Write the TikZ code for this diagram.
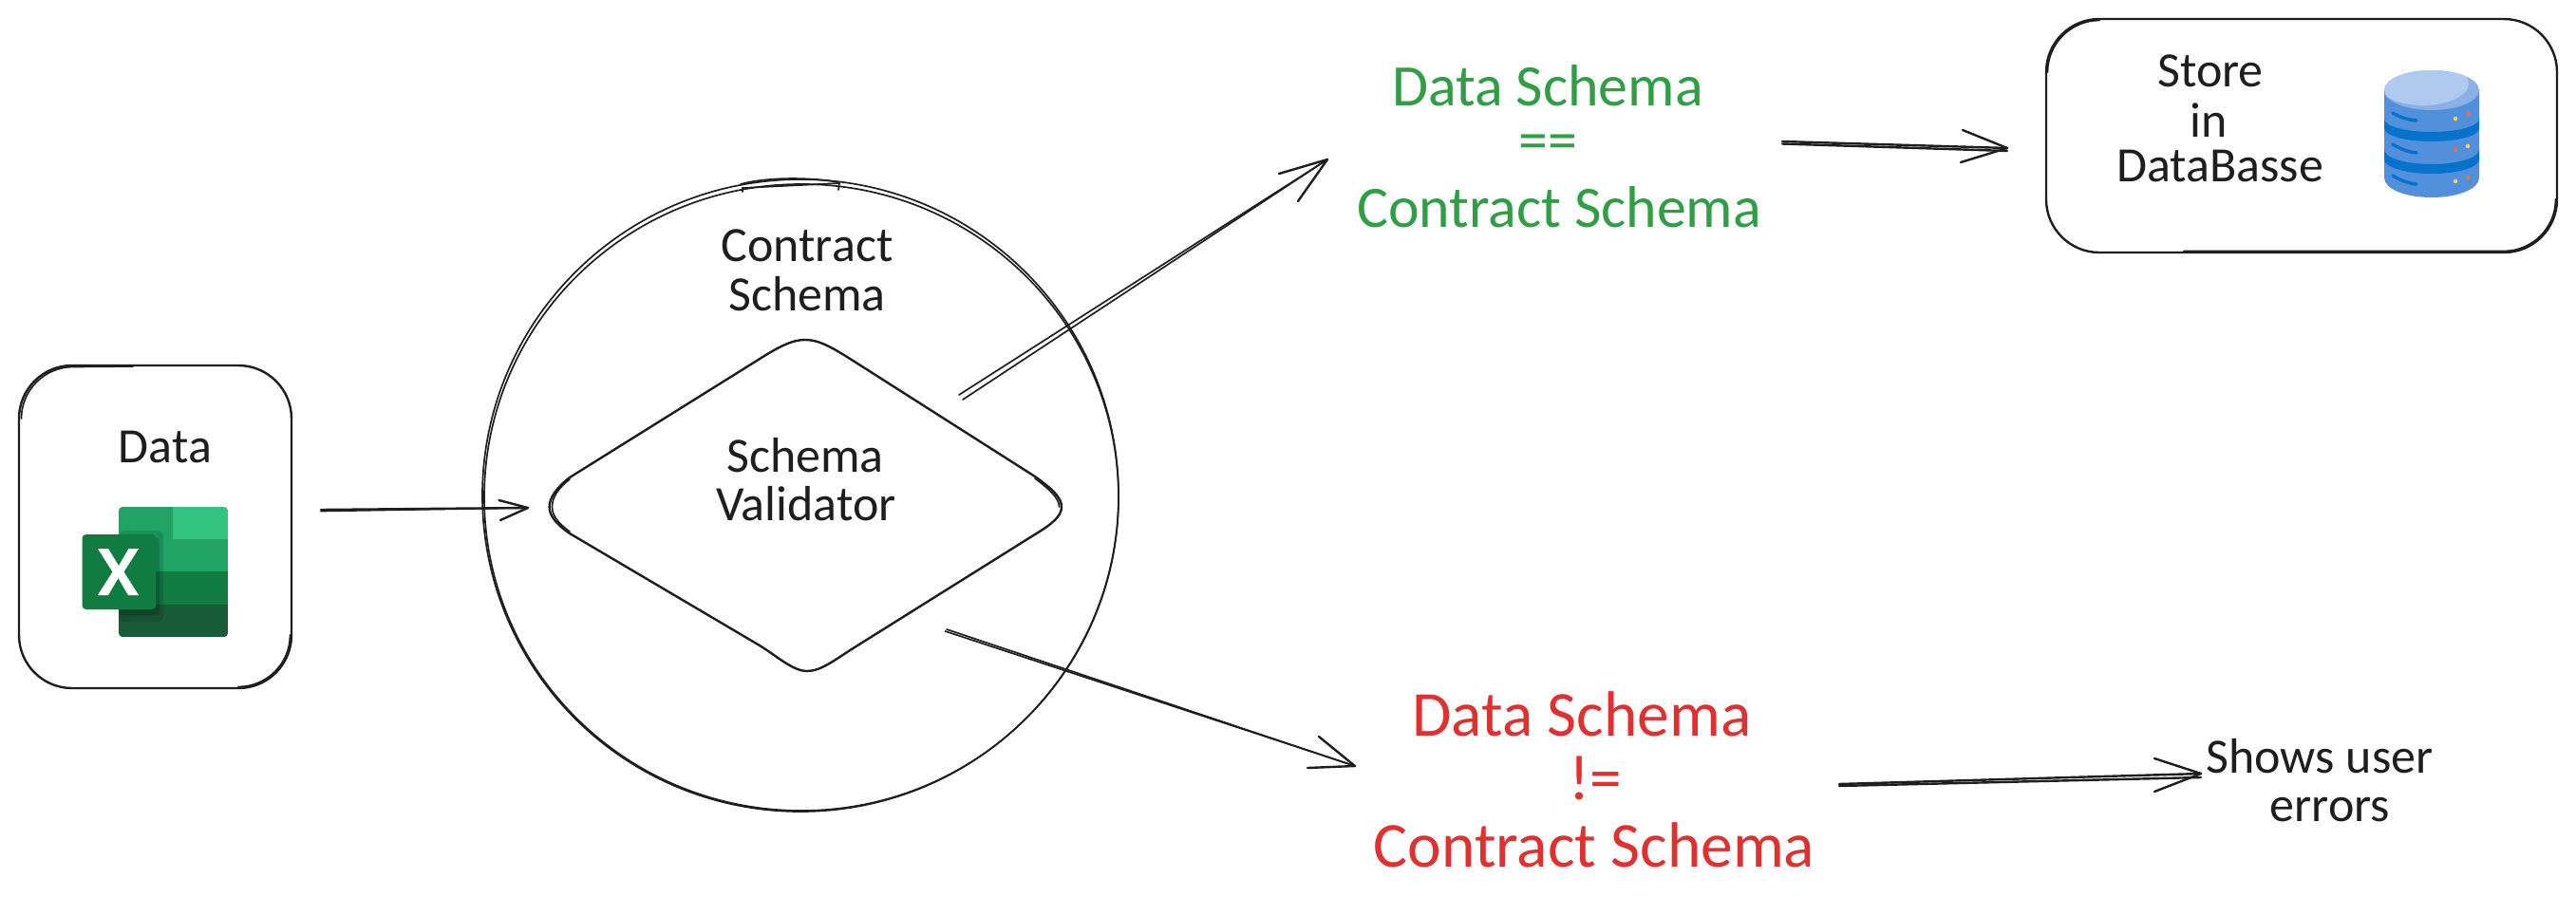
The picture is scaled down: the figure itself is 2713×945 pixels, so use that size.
\documentclass[tikz,border=0pt]{standalone}
\usepackage{fontspec}
\setmainfont{Carlito}
\usetikzlibrary{shapes.geometric}
\definecolor{ink}{HTML}{1E1E1E}
\definecolor{sgreen}{HTML}{2F9E44}
\definecolor{sred}{HTML}{E03131}
\definecolor{xa}{HTML}{33C481}
\definecolor{xb}{HTML}{21A366}
\definecolor{xc}{HTML}{107C41}
\definecolor{xd}{HTML}{185C37}
\definecolor{dba}{HTML}{5290DB}
\definecolor{dbb}{HTML}{8AB0E5}
\definecolor{dbc}{HTML}{B0C9EE}
\definecolor{dbd}{HTML}{0672CB}
\definecolor{dby}{HTML}{FFD54F}
\definecolor{dbo}{HTML}{F0703C}
\tikzset{
  x=0.25mm,y=-0.25mm,
  stroke/.style={draw=ink,line width=0.6mm,line cap=round,line join=round},
  fine/.style={draw=ink,line width=0.42mm,line cap=round,line join=round},
  sbox/.style={stroke,rectangle,rounded corners=14mm,inner sep=0pt},
  lab/.style={inner sep=0pt,text=ink,font=\fontsize{37}{39}\selectfont},
  glab/.style={inner sep=0pt,text=sgreen,font=\fontsize{44}{46}\selectfont},
  rlab/.style={inner sep=0pt,text=sred,font=\fontsize{48}{50}\selectfont},
}
\begin{document}
\begin{tikzpicture}
\useasboundingbox (0,0) rectangle (2713,945);
\fill[white] (0,0) rectangle (2713,945);

% Data box
\node[sbox,minimum width=71.75mm,minimum height=85mm] (databox) at (163.5,555) {};
\draw[fine] (22.5,441) .. controls (22.5,411) and (47,386.5) .. (77,386.5) -- (140,386);
\draw[fine] (305.5,669) .. controls (305.5,699) and (281,723.5) .. (251,723.5);
\node[lab] (datalab) at (174,471) {Data};

% Excel icon
\begin{scope}
  \clip[rounded corners=1mm] (125,534) rectangle (240,671);
  \fill[xb] (125,534) rectangle (182,568);
  \fill[xa] (182,534) rectangle (240,568);
  \fill[xb] (125,568) rectangle (240,602);
  \fill[xc] (125,602) rectangle (240,637);
  \fill[xd] (125,637) rectangle (240,671);
  \fill[black,opacity=0.12,rounded corners=1.5mm] (125,559) rectangle (172,655);
  \fill[black,opacity=0.15,rounded corners=1mm] (125,566) rectangle (168,648);
\end{scope}
\fill[xc,rounded corners=1mm] (86.5,563) rectangle (164,642);
\fill[white] (103,578) -- (114,578) -- (125,596) -- (135.5,578) -- (146,578) -- (130.5,602.5) -- (146,627) -- (135,627) -- (124.5,609) -- (114,627) -- (103,627) -- (118.5,602.5) -- cycle;

% Circle
\node[ellipse,inner sep=0pt,fine,minimum width=167.5mm,minimum height=166.5mm] (circ) at (843,522) {};
\draw[fine] (844,524) ellipse [x radius=334,y radius=330];
\draw[fine] (780,194) .. controls (805,187) and (850,186) .. (883,192);
\draw[fine] (782,198) -- (884,193);
\draw[fine] (782,198) -- (782,202);
\draw[fine] (884,193) -- (883,200);
\node[lab] (contract) at (850,259) {Contract};
\node[lab] (cschema) at (850,310) {Schema};

% Diamond
\coordinate (dT) at (848,358);
\coordinate (dR) at (1118,534);
\coordinate (dB) at (850,707);
\coordinate (dL) at (578.6,534);
\draw[stroke] (797,380) .. controls (822,364) and (835,358) .. (dT) .. controls (862,358) and (875,365) .. (900,381)
  -- (1090,502) .. controls (1108,515) and (1118,524) .. (dR) .. controls (1118,544) and (1108,552) .. (1090,563)
  -- (900,682) .. controls (880,694.5) and (865,707) .. (dB) .. controls (835,707) and (818,691) .. (800,680)
  -- (600,562) .. controls (587,553) and (578.6,544) .. (dL) .. controls (578.6,524) and (587,513) .. (600,503) -- cycle;
\draw[fine] (600,505) .. controls (588,514) and (581.5,524) .. (581.5,534) .. controls (581.5,544) and (589,552) .. (600,560);
\draw[fine] (1090,504) .. controls (1106,516) and (1115.5,525) .. (1115.5,534);
\node[lab] (vschema) at (848,480) {Schema};
\node[lab] (vvalid) at (849,530.5) {Validator};

% Connector: data to validator
\coordinate (a1s) at (338,537);
\coordinate (a1t) at (338,538.5);
\coordinate (a1e) at (556,535);
\coordinate (a1u) at (525.5,527);
\coordinate (a1v) at (527,548);
\draw[stroke] (a1s) -- (a1e);
\draw[fine] (a1t) -- (a1e);
\draw[stroke] (a1u) -- (a1e) -- (a1v);

% Connector: validator to green
\coordinate (a2s) at (1010,416);
\coordinate (a2t) at (1014,421);
\coordinate (a2e) at (1398,168);
\coordinate (a2u) at (1347,183);
\coordinate (a2v) at (1367,212);
\draw[fine] (a2s) -- (a2e);
\draw[fine] (a2t) -- (a2e);
\draw[stroke] (a2u) -- (a2e) -- (a2v);

% Connector: validator to red
\coordinate (a3s) at (995.5,665);
\coordinate (a3t) at (997,663);
\coordinate (a3e) at (1427,807);
\coordinate (a3u) at (1389,776);
\coordinate (a3v) at (1377,809);
\draw[fine] (a3s) -- (a3e);
\draw[fine] (a3t) -- (a3e);
\draw[stroke] (a3u) -- (a3e) -- (a3v);

% Connector: green to store
\coordinate (a4s) at (1877,149);
\coordinate (a4t) at (1877,151.5);
\coordinate (a4e) at (2114,156);
\coordinate (a4f) at (2114,159);
\coordinate (a4u) at (2067,137);
\coordinate (a4v) at (2065,171);
\draw[stroke] (a4s) -- (a4e);
\draw[stroke] (a4t) -- (a4f);
\draw[stroke] (a4u) -- (a4e) -- (a4v);

% Connector: red to errors
\coordinate (a5s) at (1937,826);
\coordinate (a5t) at (1937,828);
\coordinate (a5e) at (2318,815);
\coordinate (a5f) at (2318,819);
\coordinate (a5u) at (2269,799);
\coordinate (a5v) at (2269,834);
\draw[stroke] (a5s) -- (a5e);
\draw[stroke] (a5t) -- (a5f);
\draw[stroke] (a5u) -- (a5e) -- (a5v);

% Green text
\node[glab] (g1) at (1630,90) {Data Schema};
\node[glab] (g2) at (1630,155) {==};
\node[glab] (g3) at (1642,218) {Contract Schema};

% Red text
\node[rlab] (r1) at (1666,752) {Data Schema};
\node[rlab] (r2) at (1680,820) {!=};
\node[rlab] (r3) at (1679,890) {Contract Schema};

% Errors text
\node[lab] (e1) at (2443,797) {Shows user};
\node[lab] (e2) at (2454,853) {errors};

% Store box
\node[sbox,minimum width=134.5mm,minimum height=61.5mm] (storebox) at (2424,143) {};
\draw[fine] (2156.5,76) .. controls (2156.5,46) and (2181,21.5) .. (2211,21.5);
\draw[fine] (2691.5,210) .. controls (2691.5,240) and (2667,264.5) .. (2637,264.5) -- (2300,264.5);
\node[lab] (s1) at (2328,75) {Store};
\node[lab] (s2) at (2326,127) {in};
\node[lab] (s3) at (2338,175) {DataBasse};

% Database icon
\fill[dba] (2511,95) -- (2511,187) .. controls (2511,199) and (2533,208) .. (2561,208) .. controls (2589,208) and (2611,199) .. (2611,187) -- (2611,95) -- cycle;
\fill[dbb] (2561,95) ellipse [x radius=50,y radius=21];
\begin{scope}
  \clip (2561,95) ellipse [x radius=50,y radius=21];
  \fill[dbc] (2552,88) ellipse [x radius=48,y radius=23];
\end{scope}
\fill[dbd] (2511,125) .. controls (2511,133) and (2533,139) .. (2561,139) .. controls (2589,139) and (2611,133) .. (2611,125) -- (2611,135) .. controls (2611,143) and (2589,149) .. (2561,149) .. controls (2533,149) and (2511,143) .. (2511,135) -- cycle;
\fill[dbd] (2511,158) .. controls (2511,166) and (2533,173) .. (2561,173) .. controls (2589,173) and (2611,166) .. (2611,158) -- (2611,168) .. controls (2611,176) and (2589,183) .. (2561,183) .. controls (2533,183) and (2511,176) .. (2511,168) -- cycle;
\draw[dbd,line width=0.85mm,line cap=round] (2520,119) .. controls (2528,124) and (2536,126) .. (2545,127);
\draw[dbd,line width=0.85mm,line cap=round] (2520,152) .. controls (2528,157) and (2536,160) .. (2545,161);
\draw[dbd,line width=0.85mm,line cap=round] (2520,185) .. controls (2528,190) and (2536,193) .. (2545,194);
\fill[dby] (2586,125) circle [radius=2.2];
\fill[dbo] (2599,120) circle [radius=2.2];
\fill[dbo] (2586,158) circle [radius=2.2];
\fill[dby] (2599,154) circle [radius=2.2];
\fill[dby] (2586,191) circle [radius=2.2];
\fill[dbo] (2599,187) circle [radius=2.2];
\end{tikzpicture}
\end{document}
